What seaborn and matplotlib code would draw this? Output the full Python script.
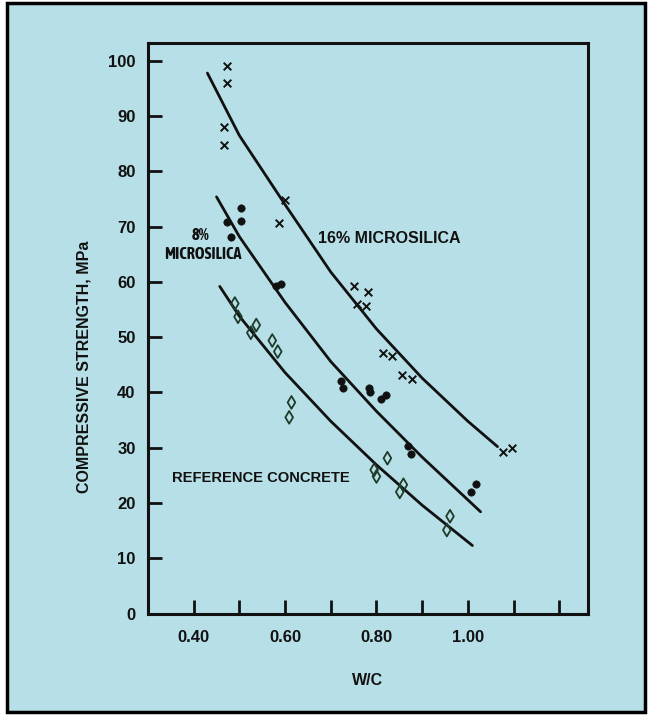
import matplotlib
matplotlib.use("Agg")
import matplotlib.pyplot as plt
import seaborn as sns
import pandas as pd
from matplotlib.patches import Rectangle
from matplotlib import font_manager
from matplotlib.font_manager import FontProperties

# ---------------- data ----------------
wc_16 = [0.472, 0.472, 0.467, 0.467, 0.599, 0.587, 0.751, 0.782, 0.758, 0.778,
         0.815, 0.833, 0.857, 0.877, 1.078, 1.096]
fc_16 = [99.0, 96.0, 88.1, 84.7, 74.8, 70.7, 59.2, 58.1, 56.1, 55.7,
         47.1, 46.6, 43.2, 42.4, 29.2, 29.9]

wc_8 = [0.503, 0.503, 0.472, 0.481, 0.590, 0.580, 0.722, 0.727, 0.783, 0.786,
        0.809, 0.820, 0.868, 0.876, 1.017, 1.007]
fc_8 = [73.3, 71.1, 70.8, 68.2, 59.7, 59.3, 42.0, 40.8, 40.9, 40.1,
        38.8, 39.5, 30.3, 28.9, 23.4, 22.0]

wc_ref = [0.490, 0.497, 0.537, 0.525, 0.572, 0.584, 0.614, 0.609, 0.824, 0.795,
          0.800, 0.859, 0.851, 0.961, 0.954]
fc_ref = [56.1, 53.7, 52.2, 50.8, 49.4, 47.4, 38.2, 35.5, 28.1, 26.0,
          24.8, 23.3, 22.0, 17.6, 15.1]

# trend curves as drawn in the figure
curve16_x = [0.430, 0.500, 0.600, 0.700, 0.800, 0.900, 1.000, 1.065]
curve16_y = [97.8, 86.5, 74.0, 61.8, 51.5, 42.6, 34.8, 30.2]
curve8_x = [0.450, 0.500, 0.600, 0.700, 0.800, 0.900, 1.028]
curve8_y = [75.4, 68.2, 56.3, 45.6, 36.6, 28.3, 18.4]
curveref_x = [0.457, 0.500, 0.600, 0.700, 0.800, 0.900, 1.010]
curveref_y = [59.2, 53.8, 43.6, 34.8, 26.9, 19.6, 12.3]

x_ticks = [0.4, 0.5, 0.6, 0.7, 0.8, 0.9, 1.0, 1.1, 1.2]
x_ticklabels = ["0.40", "", "0.60", "", "0.80", "", "1.00", "", ""]
y_ticks = [0, 10, 20, 30, 40, 50, 60, 70, 80, 90, 100]

label_16 = "16% MICROSILICA"
label_8a = "8%"
label_8b = "MICROSILICA"
label_ref = "REFERENCE CONCRETE"
xlabel = "W/C"
ylabel = "COMPRESSIVE STRENGTH, MPa"

# ---------------- style ----------------
BG = "#b7dfe7"
INK = "#111111"
sns.set_style("ticks")
plt.rcParams["font.family"] = ["Liberation Sans", "DejaVu Sans"]


def _w(f):
    w = f.weight
    if isinstance(w, str):
        w = {"bold": 700, "semibold": 600, "demibold": 600, "heavy": 800,
             "black": 900, "extra bold": 800}.get(w.lower(), 400)
    return w


# a bold condensed sans for the small "8% MICROSILICA" label
narrow_fp = FontProperties(family="Liberation Sans", weight="bold", size=10.3)
cands = [f for f in font_manager.fontManager.ttflist
         if ("Narrow" in f.name or "Condensed" in f.name)
         and "Mono" not in f.name and "Serif" not in f.name
         and f.style == "normal" and 600 <= _w(f) <= 750]
if cands:
    cands.sort(key=lambda f: abs(_w(f) - 700))
    narrow_fp = FontProperties(fname=cands[0].fname, size=11.8)

W, H = 652, 715
fig = plt.figure(figsize=(W / 100, H / 100), dpi=100)
fig.patch.set_facecolor("white")
fig.add_artist(Rectangle((7 / W, 3 / H), (645 - 7) / W, (712 - 3) / H,
                         transform=fig.transFigure, facecolor=BG,
                         edgecolor="black", lw=2.5, zorder=0))

left, right, top, bottom = 148, 588, 42.7, 613.5
ax = fig.add_axes([left / W, 1 - bottom / H, (right - left) / W, (bottom - top) / H])
ax.set_facecolor("none")

d16 = pd.DataFrame({"wc": wc_16, "fc": fc_16})
d8 = pd.DataFrame({"wc": wc_8, "fc": fc_8})
dref = pd.DataFrame({"wc": wc_ref, "fc": fc_ref})
c16 = pd.DataFrame({"wc": curve16_x, "fc": curve16_y})
c8 = pd.DataFrame({"wc": curve8_x, "fc": curve8_y})
cref = pd.DataFrame({"wc": curveref_x, "fc": curveref_y})

for c in (c16, c8, cref):
    sns.lineplot(data=c, x="wc", y="fc", ax=ax, color=INK, lw=2.0,
                 sort=True, estimator=None)

sns.scatterplot(data=d16, x="wc", y="fc", ax=ax, marker="x", s=30,
                color=INK, linewidth=1.4, zorder=3)
sns.scatterplot(data=d8, x="wc", y="fc", ax=ax, marker="o", s=28,
                color=INK, edgecolor=INK, linewidth=0.5, zorder=3)
sns.scatterplot(data=dref, x="wc", y="fc", ax=ax, marker="d", s=42,
                facecolor="none", edgecolor="#1e3a28", linewidth=1.3, zorder=3)

ax.set_xlim(0.30, 1.263)
ax.set_ylim(0, 103.3)
ax.set_xticks(x_ticks)
ax.set_xticklabels(x_ticklabels)
ax.set_yticks(y_ticks)
ax.set_yticklabels([str(v) for v in y_ticks])
ax.tick_params(direction="in", length=10, width=2, colors=INK,
               labelsize=12, pad=9)
ax.tick_params(axis="x", pad=12)
for lab in ax.get_xticklabels() + ax.get_yticklabels():
    lab.set_fontweight("bold")
for s in ax.spines.values():
    s.set_visible(True)
    s.set_linewidth(2.2)
    s.set_color(INK)

ax.set_xlabel(xlabel, fontsize=11.5, fontweight="bold", color=INK)
ax.set_ylabel(ylabel, fontsize=11.5, fontweight="bold", color=INK)
ax.xaxis.set_label_coords(0.5, -0.105)
ax.yaxis.set_label_coords(-0.128, 0.432)

ax.text(0.671, 67.8, label_16, ha="left", va="center", fontsize=11.5,
        fontweight="bold", color=INK)
ax.text(0.416, 68.5, label_8a, ha="center", va="center", color=INK,
        fontproperties=narrow_fp)
ax.text(0.421, 65.0, label_8b, ha="center", va="center", color=INK,
        fontproperties=narrow_fp)
ax.text(0.546, 24.5, label_ref, ha="center", va="center", fontsize=10.6,
        fontweight="bold", color=INK)

fig.savefig("out.png", dpi=100, facecolor=fig.get_facecolor())
